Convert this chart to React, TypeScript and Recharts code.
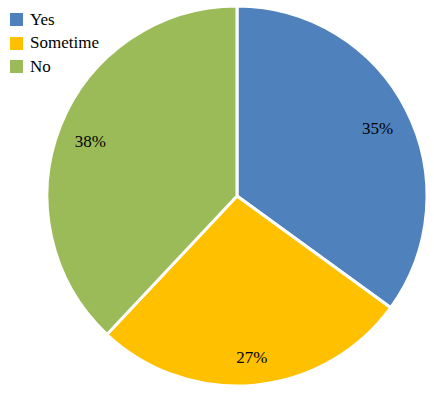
import { PieChart, Pie, Cell } from "recharts"

const categories = ["Yes", "Sometime", "No"]
const shares = [35, 27, 38]
const colors = ["#4F81BD", "#FFC000", "#9BBB59"]

const data = categories.map((name, i) => ({ name, value: shares[i] }))

const RADIAN = Math.PI / 180
const FONT = "'Liberation Serif', 'DejaVu Serif', serif"

function renderLabel(props: any) {
  const { cx, cy, midAngle, outerRadius, value } = props
  const r = outerRadius * 0.83
  const x = cx + r * Math.cos(-midAngle * RADIAN)
  const y = cy + r * Math.sin(-midAngle * RADIAN)
  return (
    <text x={x} y={y + 4} fill="#000" textAnchor="middle" dominantBaseline="central" fontFamily={FONT} fontSize={17}>
      {`${value}%`}
    </text>
  )
}

function LegendBox() {
  return (
    <div style={{ position: "absolute", left: 10, top: 8, fontFamily: FONT, fontSize: 17, color: "#000" }}>
      {categories.map((c, i) => (
        <div key={c} style={{ display: "flex", alignItems: "center", height: 23.5 }}>
          <span style={{ width: 13, height: 13, background: colors[i], marginRight: 7, display: "inline-block" }} />
          <span>{c}</span>
        </div>
      ))}
    </div>
  )
}

export default function App() {
  return (
    <div style={{ position: "absolute", left: 0, top: 0, width: 434, height: 402, background: "#fff", fontFamily: FONT }}>
      <PieChart width={434} height={402} margin={{ top: 0, right: 0, bottom: 0, left: 0 }} style={{ fontFamily: FONT }}>
        <Pie
          data={data}
          dataKey="value"
          nameKey="name"
          cx={237}
          cy={196}
          outerRadius={190}
          startAngle={90}
          endAngle={-270}
          stroke="#fff"
          strokeWidth={3}
          label={renderLabel}
          labelLine={false}
          isAnimationActive={false}
        >
          {data.map((d, i) => (
            <Cell key={d.name} fill={colors[i]} />
          ))}
        </Pie>
      </PieChart>
      <LegendBox />
    </div>
  )
}
